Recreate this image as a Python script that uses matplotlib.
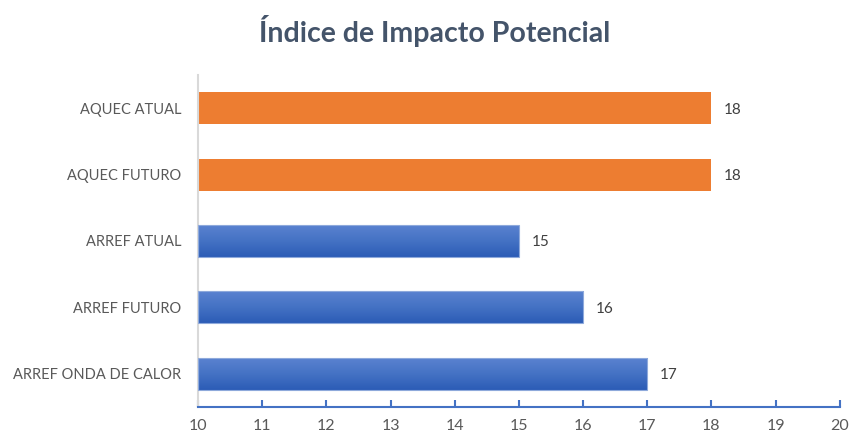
import matplotlib
matplotlib.use("Agg")
import matplotlib.pyplot as plt
import numpy as np
from matplotlib.colors import LinearSegmentedColormap

categories = ["AQUEC ATUAL", "AQUEC FUTURO", "ARREF ATUAL", "ARREF FUTURO", "ARREF ONDA DE CALOR"]
values = [18, 18, 15, 16, 17]
groups = ["aquec", "aquec", "arref", "arref", "arref"]
xticks = list(range(10, 21))

plt.rcParams['font.family'] = ['Lato', 'DejaVu Sans']

fig = plt.figure(figsize=(8.5, 4.38), dpi=100)
ax = fig.add_axes([0.2329, 0.0708, 0.7551, 0.758])

ypos = np.arange(len(categories))
base = 10
orange = "#ED7D31"
blue_cmap = LinearSegmentedColormap.from_list("b", ["#5A82D0", "#4472C4", "#2C5CB6"])

bars = ax.barh(ypos, [v - base for v in values], left=base, height=0.48,
               color=[orange if g == "aquec" else "none" for g in groups],
               edgecolor="none", zorder=2)
grad = np.linspace(0, 1, 100).reshape(-1, 1)
for b, g in zip(bars, groups):
    if g == "arref":
        x0, y0 = b.get_x(), b.get_y()
        w, h = b.get_width(), b.get_height()
        ax.imshow(grad, extent=[x0, x0 + w, y0 + h, y0], cmap=blue_cmap, aspect="auto",
                  origin="upper", zorder=2, interpolation="bilinear")
        ax.add_patch(plt.Rectangle((x0, y0), w, h, fill=False, edgecolor="#8EA9DB",
                                   linewidth=0.8, zorder=3))

for b, v in zip(bars, values):
    ax.text(b.get_x() + b.get_width() + 0.2, b.get_y() + b.get_height() / 2 + 0.02, f"{v}",
            va="center", ha="left", fontsize=11, color="#404040")

ax.set_xlim(10, 20)
ax.set_ylim(len(categories) - 0.5, -0.5)
ax.set_yticks(ypos)
ax.set_yticklabels(categories, fontsize=10.5, color="#595959")
ax.set_xticks(xticks)
ax.set_xticklabels([str(t) for t in xticks], fontsize=11.5, color="#595959")
ax.tick_params(axis="y", length=0, pad=12)
ax.tick_params(axis="x", direction="in", length=5, width=1.5, color="#4472C4", pad=9)

for s in ["top", "right"]:
    ax.spines[s].set_visible(False)
ax.spines["bottom"].set_color("#4472C4")
ax.spines["bottom"].set_linewidth(1.5)
ax.spines["left"].set_color("#D9D9D9")
ax.spines["left"].set_linewidth(1.5)

fig.text(0.511, 0.93, "Índice de Impacto Potencial", ha="center", va="center",
         fontsize=20.5, fontweight="bold", color="#44546A")

fig.savefig("out.png", dpi=100)
